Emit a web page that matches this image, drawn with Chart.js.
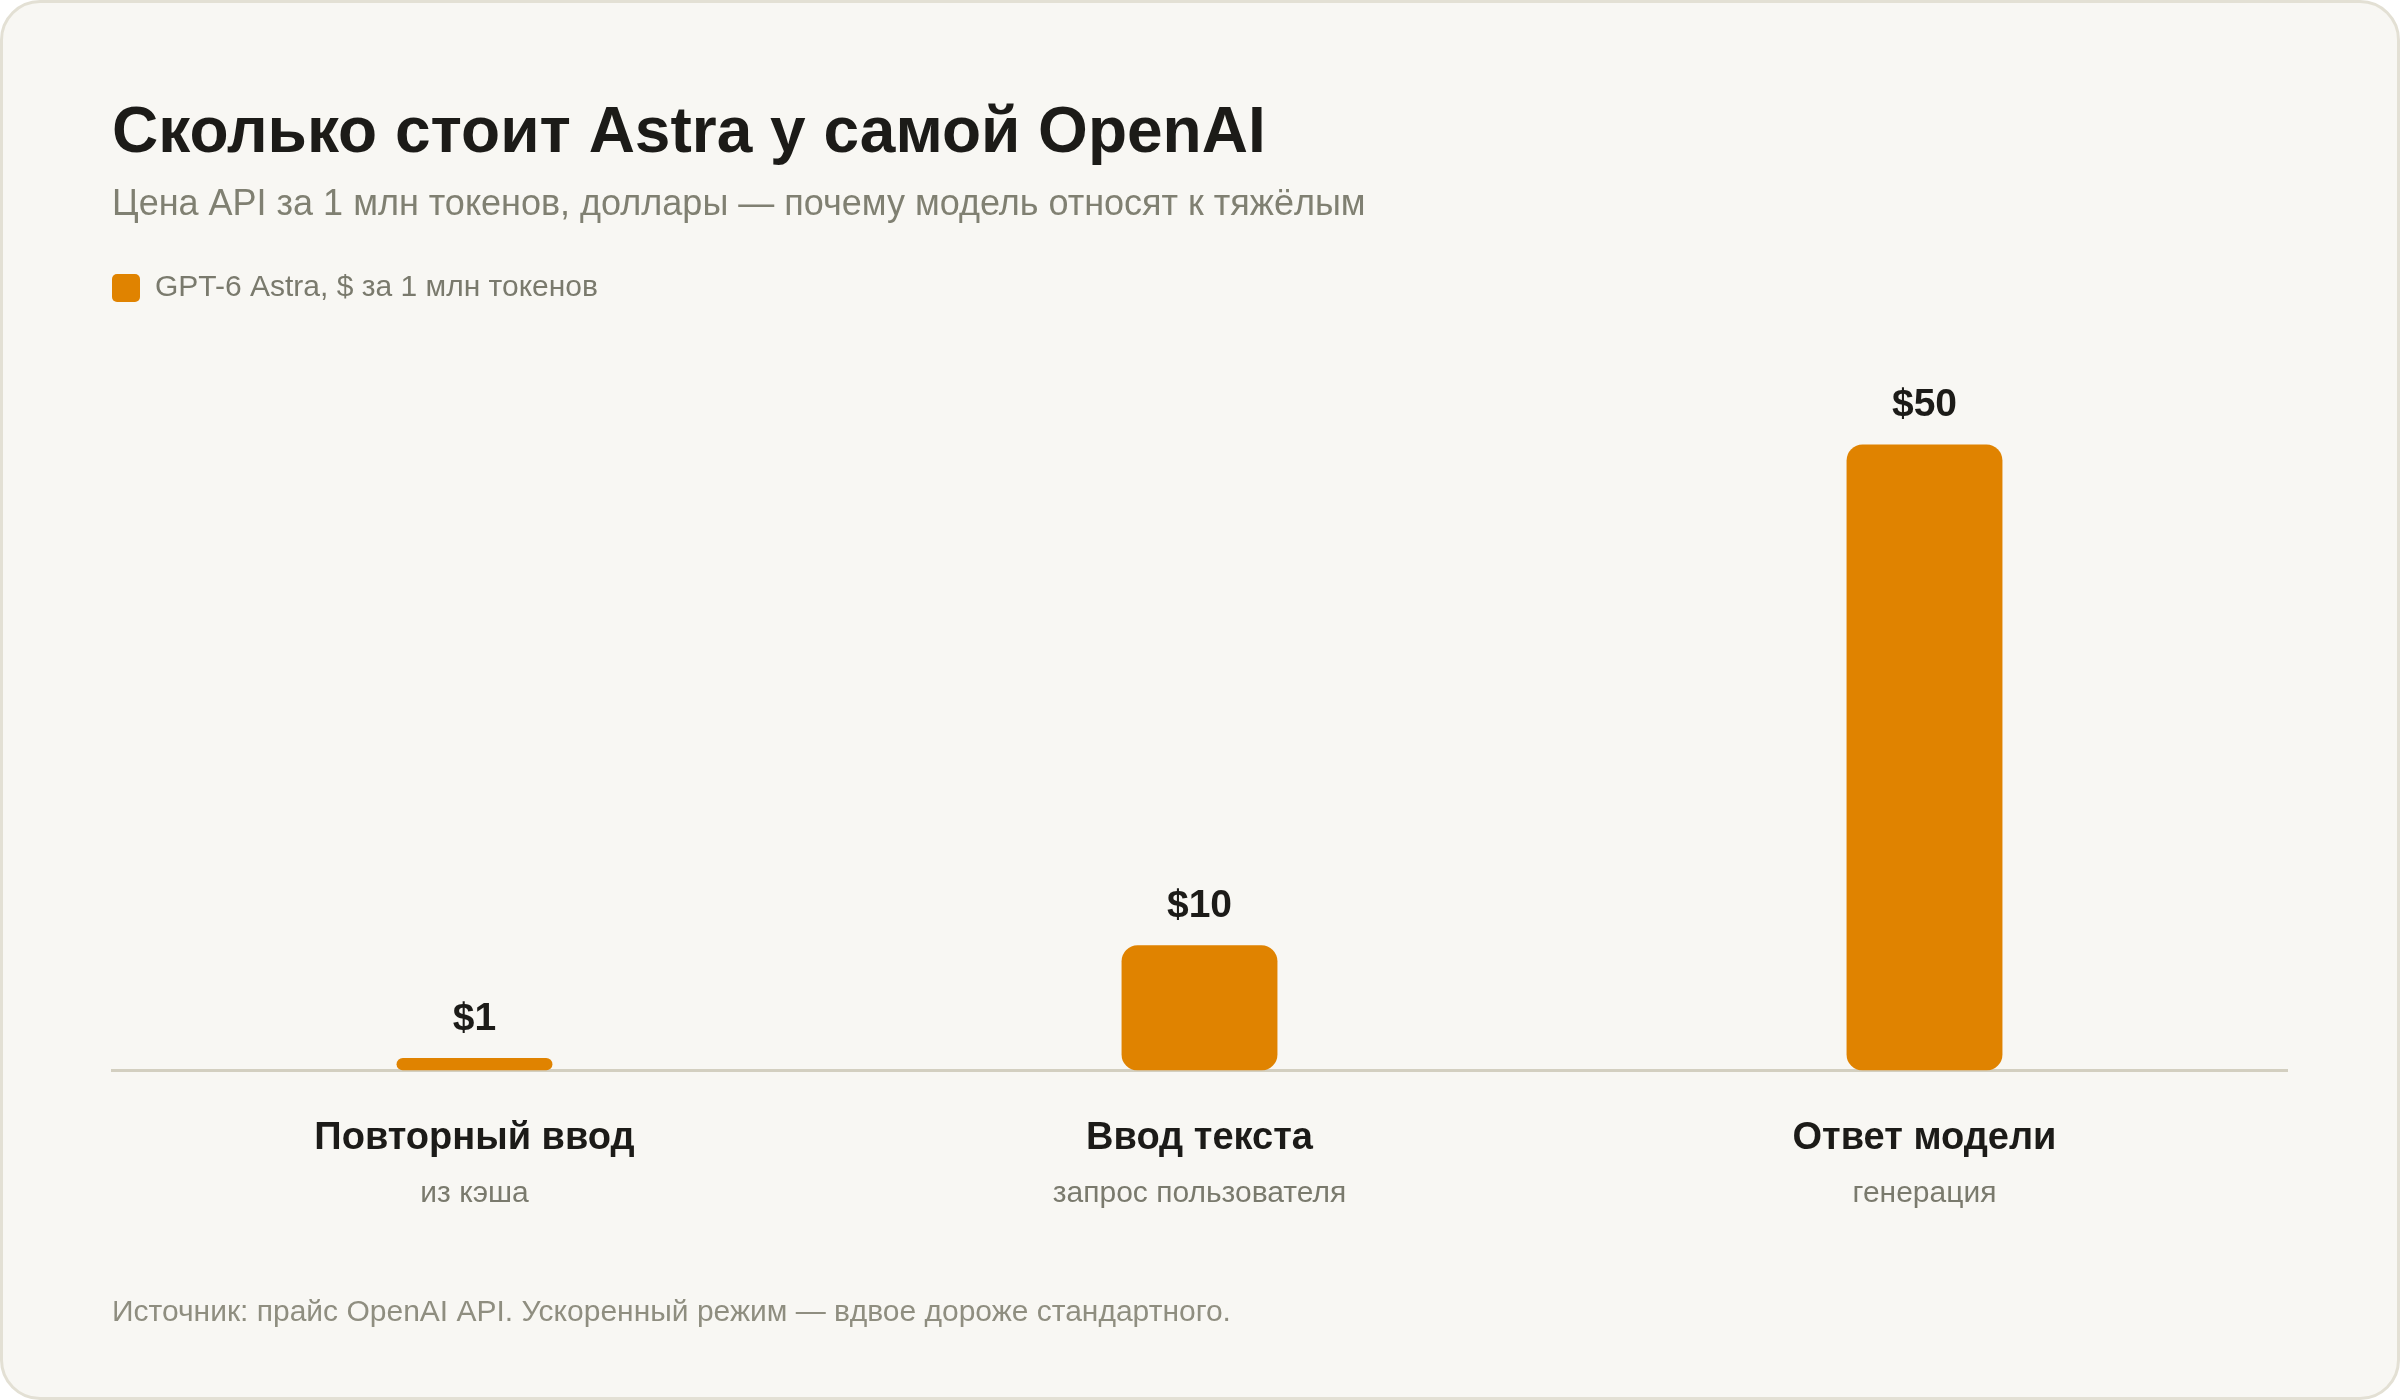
<!DOCTYPE html>
<html lang="ru">
<head>
<meta charset="utf-8">
<title>Сколько стоит Astra у самой OpenAI</title>
<script src="https://cdn.jsdelivr.net/npm/chart.js@4.4.1/dist/chart.umd.min.js"></script>
<style>
  html, body { margin: 0; padding: 0; background: #ffffff; }
  .card {
    position: absolute; left: 0; top: 0; width: 2400px; height: 1400px;
    box-sizing: border-box; border: 3px solid #e3e0d4; border-radius: 40px;
    background: #f8f7f3;
  }
  .wrap { position: absolute; left: 0; top: 0; width: 2400px; height: 1400px; }
</style>
</head>
<body>
<div class="card"></div>
<div class="wrap"><canvas id="priceChart"></canvas></div>
<script>
const categories = ['Повторный ввод', 'Ввод текста', 'Ответ модели'];
const subLabels = ['из кэша', 'запрос пользователя', 'генерация'];
const prices = [1, 10, 50];
const seriesName = 'GPT-6 Astra, $ за 1 млн токенов';
const footnote = 'Источник: прайс OpenAI API. Ускоренный режим — вдвое дороже стандартного.';

const FONT = '"Liberation Sans", Arial, sans-serif';
const ORANGE = '#e08300';
const INK = '#1c1b18';
const MUTED = '#7a7a6d';

// value labels over bars, captions under categories, footnote
const extraText = {
  id: 'extraText',
  afterDatasetsDraw(chart) {
    const c = chart.ctx;
    const meta = chart.getDatasetMeta(0);
    c.save();
    c.textAlign = 'center';
    c.textBaseline = 'alphabetic';
    c.fillStyle = INK;
    c.font = 'bold 39px ' + FONT;
    meta.data.forEach((bar, i) => {
      c.fillText('$' + prices[i], bar.x, bar.y - 28);
    });
    const xs = chart.scales.x;
    c.fillStyle = MUTED;
    c.font = '30px ' + FONT;
    subLabels.forEach((s, i) => {
      c.fillText(s, xs.getPixelForValue(i), chart.chartArea.bottom + 132);
    });
    c.textAlign = 'left';
    c.fillStyle = '#8f8e80';
    c.fillText(footnote, 112, 1321);
    c.restore();
  }
};

const ctx = document.getElementById('priceChart').getContext('2d');
const priceChart = new Chart(ctx, {
  type: 'bar',
  data: {
    labels: categories,
    datasets: [{
      label: seriesName,
      data: prices,
      backgroundColor: ORANGE,
      borderRadius: 16,
      borderSkipped: false,
      barPercentage: 0.43,
      categoryPercentage: 0.5
    }]
  },
  options: {
    responsive: true,
    maintainAspectRatio: false,
    animation: false,
    devicePixelRatio: 1,
    layout: { padding: { top: 0, left: 112, right: 113, bottom: 194 } },
    plugins: {
      title: {
        display: true,
        text: 'Сколько стоит Astra у самой OpenAI',
        align: 'start',
        color: INK,
        font: { family: FONT, size: 64, weight: 'bold', lineHeight: 1.2 },
        padding: { top: 96, bottom: 0 }
      },
      subtitle: {
        display: true,
        text: 'Цена API за 1 млн токенов, доллары — почему модель относят к тяжёлым',
        align: 'start',
        color: '#808072',
        font: { family: FONT, size: 36, lineHeight: 1.2 },
        padding: { top: 11, bottom: 46 }
      },
      legend: {
        display: true,
        align: 'start',
        labels: {
          color: MUTED,
          font: { family: FONT, size: 30 },
          boxWidth: 28,
          boxHeight: 28,
          padding: 0,
          useBorderRadius: true,
          borderRadius: 5
        }
      },
      tooltip: { enabled: false }
    },
    scales: {
      x: {
        grid: { display: false, drawTicks: false },
        border: { display: true, color: '#d3cfc0', width: 3 },
        ticks: {
          color: INK,
          padding: 45,
          font: { family: FONT, size: 38, weight: 'bold', lineHeight: 1.2 }
        }
      },
      y: {
        display: false,
        min: 0,
        max: 60.5
      }
    }
  },
  plugins: [extraText]
});
</script>
</body>
</html>
